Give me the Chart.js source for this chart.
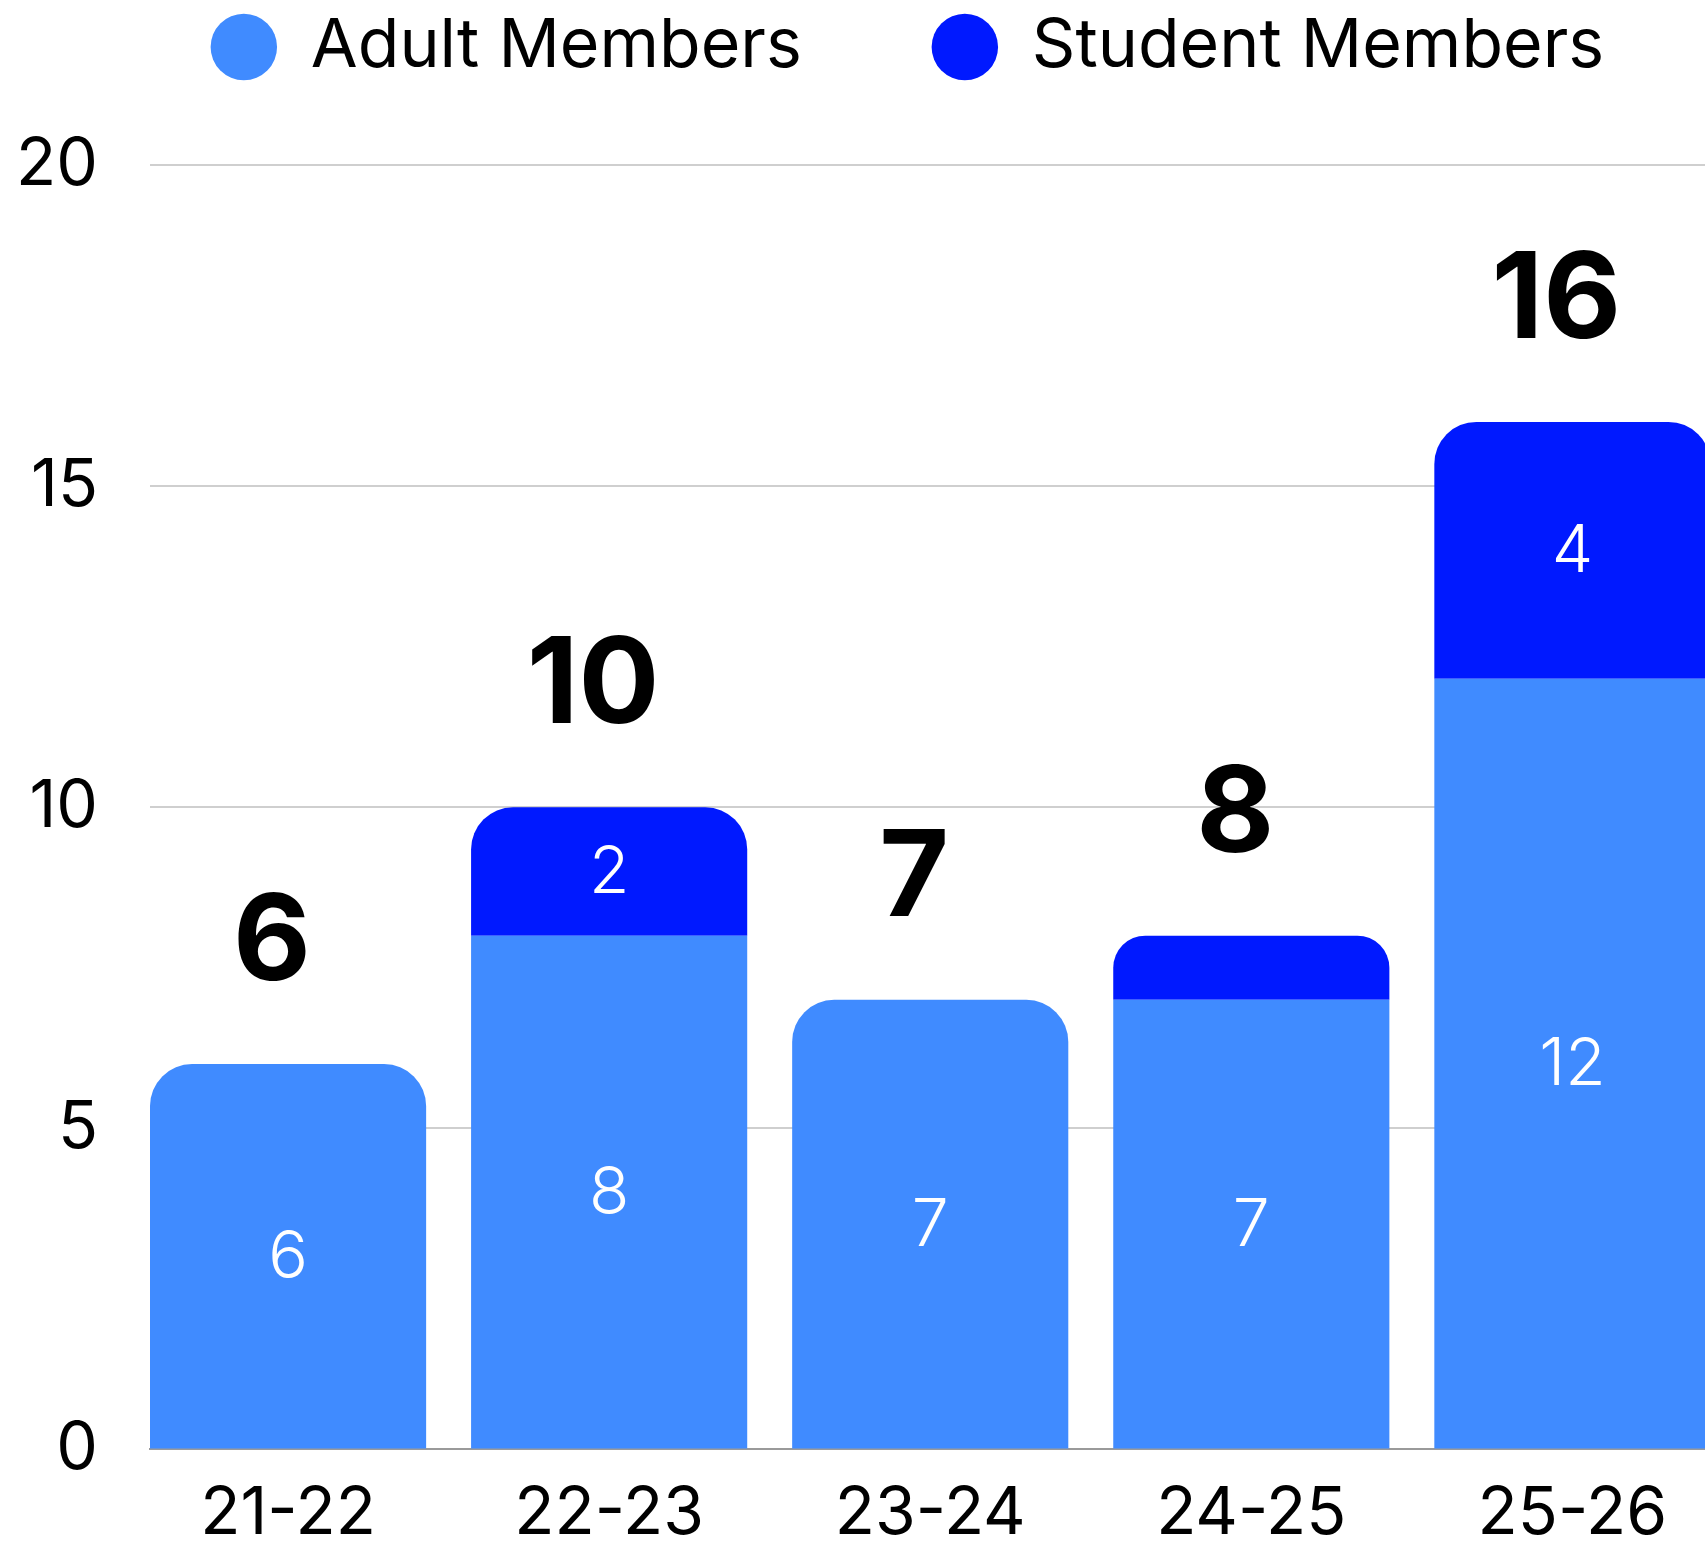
<!DOCTYPE html>
<html>
<head>
<meta charset="utf-8">
<script src="https://cdn.jsdelivr.net/npm/chart.js@4"></script>
<style>
  html, body { margin: 0; padding: 0; background: #fff; overflow: hidden; }
</style>
</head>
<body>
<canvas id="members" width="1705" height="1541"></canvas>
<script>
const categories = ['21-22', '22-23', '23-24', '24-25', '25-26'];
const adultMembers = [6, 8, 7, 7, 12];
const studentMembers = [0, 2, 0, 1, 4];
const yMin = 0;
const yMax = 20;
const yStep = 5;

const FONT = 'Inter, "Noto Sans", sans-serif';
const ADULT = '#408BFF';
const STUDENT = '#0019FF';

// bars sit flush with both ends of the plot, so use a linear x axis
const xMin = -0.43;
const xMax = categories.length - 1 + 0.413;
const toPoints = arr => arr.map((v, i) => ({ x: i, y: v }));

// white value in each segment + bold total above each stack
const barLabels = {
  id: 'barLabels',
  afterDatasetsDraw(chart) {
    const ctx = chart.ctx;
    ctx.save();
    ctx.textAlign = 'center';
    ctx.textBaseline = 'middle';
    ctx.fillStyle = '#fff';
    ctx.font = '300 66px ' + FONT;
    chart.data.datasets.forEach((ds, i) => {
      chart.getDatasetMeta(i).data.forEach((bar, j) => {
        if (bar.base - bar.y < 80) return;
        ctx.fillText(ds.data[j].y, bar.x, (bar.y + bar.base) / 2 + 2);
      });
    });
    const x = chart.scales.x, y = chart.scales.y;
    ctx.fillStyle = '#000';
    ctx.font = 'bold 120px ' + FONT;
    categories.forEach((c, j) => {
      const total = adultMembers[j] + studentMembers[j];
      ctx.fillText(total, x.getPixelForValue(j) - 16, y.getPixelForValue(total) - 120);
    });
    ctx.restore();
  }
};

// extra room under the legend, and nudge it right
const legendSpacing = {
  id: 'legendSpacing',
  beforeInit(chart) {
    const fit = chart.legend.fit;
    chart.legend.fit = function () {
      fit.call(this);
      this.height += 74;
    };
  },
  afterLayout(chart) {
    chart.legend.left += 47;
    chart.legend.right += 47;
  }
};

new Chart(document.getElementById('members'), {
  type: 'bar',
  data: {
    datasets: [
      {
        label: 'Adult Members',
        data: toPoints(adultMembers),
        backgroundColor: ADULT,
        borderRadius: ctx => studentMembers[ctx.dataIndex] > 0 ? 0 : 42,
        borderSkipped: 'start',
        categoryPercentage: 0.86,
        barPercentage: 1
      },
      {
        label: 'Student Members',
        data: toPoints(studentMembers),
        backgroundColor: STUDENT,
        borderRadius: 42,
        borderSkipped: 'start',
        categoryPercentage: 0.86,
        barPercentage: 1
      }
    ]
  },
  options: {
    responsive: false,
    animation: false,
    layout: { padding: { left: 16, top: -117, right: 0, bottom: -32 } },
    plugins: {
      tooltip: { enabled: false },
      legend: {
        position: 'top',
        labels: {
          usePointStyle: true,
          pointStyle: 'circle',
          boxWidth: 66,
          boxHeight: 47,
          padding: 130,
          color: '#000',
          font: { family: FONT, size: 68 }
        }
      }
    },
    scales: {
      x: {
        type: 'linear',
        stacked: true,
        offset: false,
        bounds: 'data',
        min: xMin,
        max: xMax,
        afterBuildTicks: scale => {
          scale.ticks = categories.map((c, i) => ({ value: i }));
          scale.min = xMin;
          scale.max = xMax;
        },
        grid: { display: false },
        border: { display: true, color: '#9a9a9a', width: 2 },
        ticks: {
          callback: v => categories[v],
          maxRotation: 0,
          color: '#000',
          padding: 17,
          font: { family: FONT, size: 66 }
        }
      },
      y: {
        stacked: true,
        min: yMin,
        max: yMax,
        afterFit: scale => { scale.width = 134; },
        border: { display: false },
        grid: { color: '#cfcfcf', lineWidth: 2, drawTicks: false },
        ticks: { stepSize: yStep, color: '#000', padding: 52, font: { family: FONT, size: 66 } }
      }
    }
  },
  plugins: [barLabels, legendSpacing]
});
</script>
</body>
</html>
